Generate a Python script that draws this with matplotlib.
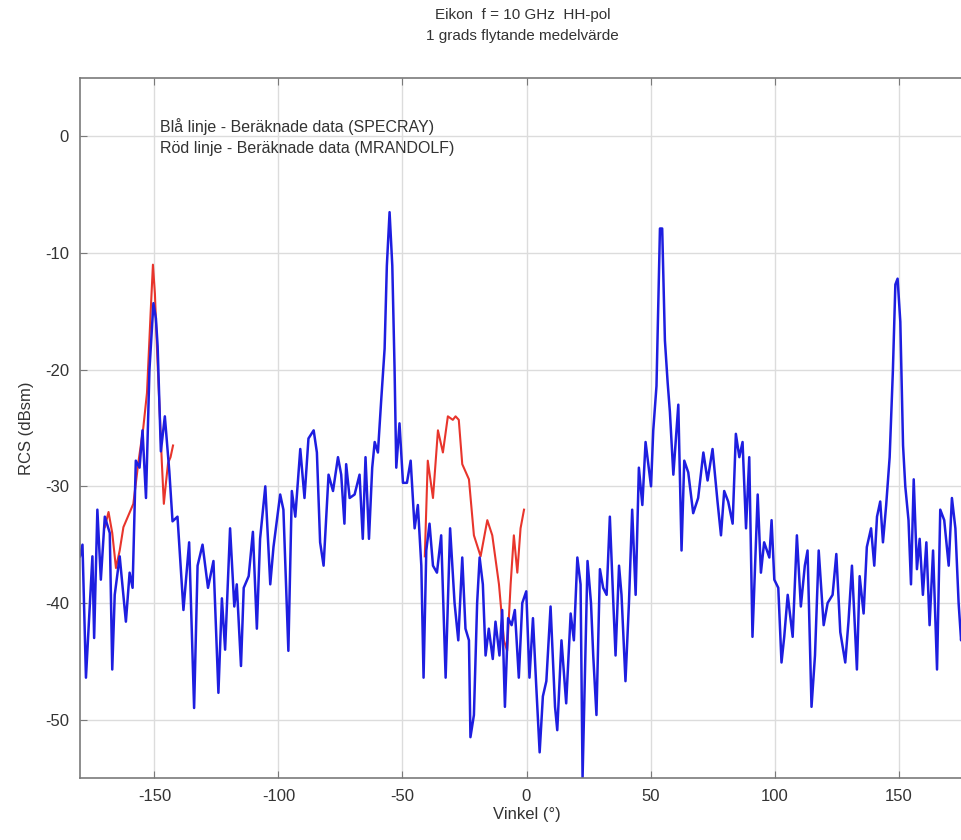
import matplotlib
matplotlib.use("Agg")
import matplotlib.pyplot as plt

plt.rcParams["font.family"] = ["Liberation Sans", "DejaVu Sans"]
plt.rcParams["axes.unicode_minus"] = False

# SPECRAY (blue), angle in degrees and RCS in dBsm
blue_ang = [-180, -179, -177.6, -175, -174.3, -173, -171.6, -170, -168, -167, -166, -164,
            -161.5, -160, -158.8, -157.5, -156, -154.8, -153.4, -152, -150.4, -149.4, -148.7,
            -147.4, -145.8, -144, -142.7, -140.7, -138.3, -136, -134, -132.6, -130.6, -128.4,
            -126.2, -124.2, -122.8, -121.5, -119.5, -117.8, -116.8, -115.1, -114, -112, -110.3,
            -108.7, -107.4, -105.3, -103.3, -102, -99.3, -98, -96, -94.6, -93.2, -91.2, -89.5,
            -87.9, -85.8, -84.5, -83.2, -81.8, -79.8, -78, -76, -74.7, -73.4, -72.7, -71.3,
            -69.3, -67.3, -66, -64.9, -63.5, -62.2, -61.2, -59.9, -58.6, -57.2, -56.3, -55.2,
            -54.1, -53.2, -52.5, -51.2, -49.8, -48.2, -46.7, -45.1, -43.8, -42.4, -41.5, -40.4,
            -39.1, -37.7, -36.1, -34.4, -32.6, -30.8, -29, -27.5, -25.9, -24.6, -23.2, -22.6,
            -21.2, -19.9, -18.9, -17.6, -16.5, -15.2, -13.6, -12.5, -10.9, -9.8, -8.7, -7.4,
            -6, -4.7, -3.1, -1.7, -0.1, 1.2, 2.6, 3.9, 5.3, 6.6, 8, 9.7, 11.5, 12.4, 14.1, 16,
            17.8, 19.1, 20.5, 21.8, 22.6, 24.6, 26, 26.9, 28.2, 29.6, 30.9, 32.3, 33.6, 35,
            35.9, 37.3, 38.3, 39.9, 41.3, 42.6, 44, 45.3, 46.7, 48, 50.2, 51.1, 52.4, 53.8,
            54.7, 55.8, 56.9, 57.8, 59.2, 61.2, 62.5, 63.6, 65.2, 67.2, 69.2, 71.3, 73, 75, 77,
            78.4, 79.7, 81.3, 83.1, 84.4, 85.8, 87.1, 88.5, 89.8, 91.1, 93.2, 94.5, 95.8, 97.9,
            98.8, 99.9, 101.5, 102.8, 103.9, 105.3, 107.3, 109, 110.6, 112.2, 113.3, 114.9,
            116.3, 117.8, 119.8, 121.4, 123.4, 124.9, 126.5, 128.5, 129.8, 131.2, 133.2, 134.3,
            135.9, 137.2, 138.9, 140.2, 141.3, 142.6, 143.7, 145, 146.4, 147.7, 148.7, 149.6,
            150.7, 151.8, 152.7, 154, 155, 156.1, 157.4, 158.5, 159.8, 161.2, 162.5, 163.9,
            165.5, 166.8, 168.4, 170.2, 171.5, 172.9, 174.2, 175.2, 177, 180]
blue_db = [-36, -35, -46.4, -36, -43, -32, -38, -32.6, -34, -45.7, -39.3, -36,
           -41.6, -37.4, -38.7, -27.8, -28.4, -25.2, -31, -20, -14.3, -15.6, -18,
           -27, -24, -28.7, -33, -32.6, -40.6, -34.8, -49, -36.8, -35, -38.7,
           -36.4, -47.7, -39.6, -44, -33.6, -40.3, -38.4, -45.4, -38.7, -37.7, -33.9,
           -42.2, -34.5, -30, -38.4, -35.2, -30.7, -32, -44.1, -30.4, -32.6, -26.8, -31,
           -25.9, -25.2, -27.1, -34.8, -36.8, -29, -30.4, -27.5, -29, -33.2, -28.1, -31,
           -30.7, -29, -34.5, -27.5, -34.5, -28.4, -26.2, -27.1, -22.7, -18.2, -11.1, -6.5,
           -11.1, -19.8, -28.4, -24.6, -29.7, -29.7, -27.8, -33.6, -31.6, -36.8, -46.4, -35.5,
           -33.2, -36.8, -37.4, -34.2, -46.4, -33.6, -40, -43.2, -36.1, -42.2, -43.2, -51.5,
           -49.6, -40, -36.1, -38.4, -44.5, -42.2, -44.8, -41.6, -44.5, -40.6, -48.9, -41.3,
           -41.9, -40.6, -46.4, -40, -39, -46.4, -41.3, -47, -52.8, -48, -46.7, -40.3, -48.9, -50.9, -43.2, -48.6,
           -40.9, -43.2, -36.1, -38.4, -55, -36.4, -40, -44.5, -49.6, -37.1, -38.7, -39.3, -32.6, -40,
           -44.5, -36.8, -39.3, -46.7, -40, -32, -39.3, -28.4, -31.6, -26.2, -30, -25.2, -21.4, -7.9,
           -7.9, -17.5, -21.1, -23.6, -29, -23, -35.5, -27.8, -28.8, -32.3, -31, -27.1, -29.5, -26.8, -31.3,
           -34.2, -30.4, -31.3, -33.2, -25.5, -27.5, -26.2, -33.6, -27.5, -42.9, -30.7, -37.4, -34.8, -36.1,
           -32.9, -38, -38.7, -45.1, -42.9, -39.3, -42.9, -34.2, -40.3, -36.8, -35.5, -48.9,
           -44.5, -35.5, -41.9, -40, -39.3, -35.8, -42.5, -45.1, -41.6, -36.8, -45.7, -37.7,
           -40.9, -35.2, -33.6, -36.8, -32.6, -31.3, -34.8, -31.6, -27.5, -20.1, -12.7, -12.2,
           -15.9, -26.5, -30, -32.9, -38.4, -29.4, -37.1, -34.5, -39.3, -34.8, -41.9, -35.5,
           -45.7, -32, -32.9, -36.8, -31, -33.6, -40, -43.2, -37, -35]

# MRANDOLF (red), two computed sectors
red1_ang = [-170, -168.5, -167, -165.5, -164, -162.5, -160.5, -158.5, -156.5, -154.5, -153,
            -151.5, -150.6, -149.8, -149, -148, -147, -146.2, -145.5, -144.5, -143.5, -142.5]
red1_db = [-33.5, -32.2, -34, -37, -35.5, -33.5, -32.5, -31.5, -28, -25, -22,
           -15, -11, -13.5, -18, -23, -28, -31.5, -30, -28, -27.5, -26.5]
red2_ang = [-41, -39.8, -37.7, -35.7, -33.7, -31.7, -29.7, -28.6, -27.3, -25.9, -23.2, -21.2,
            -18.5, -15.8, -13.8, -11.1, -9.1, -7.8, -6.4, -5.1, -3.7, -2.4, -1]
red2_db = [-36, -27.8, -31, -25.2, -27.1, -24, -24.3, -24, -24.3, -28.1, -29.4, -34.2,
           -36, -32.9, -34.2, -38.4, -43.2, -44.1, -38.4, -34.2, -37.4, -33.6, -32]

fig = plt.figure(figsize=(9.62, 8.4), dpi=100)
# right edge of the axes lies beyond the picture, as in the original
ax = fig.add_axes([80 / 962, 62 / 840, 893 / 962, 700 / 840])

ax.plot(red1_ang, red1_db, color="#e8352c", lw=1.5)
ax.plot(red2_ang, red2_db, color="#e8352c", lw=1.5)
ax.plot(blue_ang, blue_db, color="#1e1ee0", lw=1.8)

ax.set_xlim(-180, 180)
ax.set_ylim(-55, 5)
ax.set_xticks([-150, -100, -50, 0, 50, 100, 150])
ax.set_yticks([-50, -40, -30, -20, -10, 0])
ax.grid(True, color="#dcdcdc", lw=1)
ax.set_axisbelow(True)
for s in ax.spines.values():
    s.set_color("#7a7a7a")
    s.set_linewidth(1.2)
ax.tick_params(direction="in", top=True, right=True, length=5, color="#7a7a7a",
               labelsize=12, labelcolor="#333333", pad=8)

ax.set_xlabel("Vinkel (°)", fontsize=12, color="#333333", labelpad=2)
ax.set_ylabel("RCS (dBsm)", fontsize=12, color="#333333", labelpad=8)

fig.text(0.543, 1 - 15 / 840, "Eikon  f = 10 GHz  HH-pol", fontsize=11, color="#333333",
         ha="center", va="center")
fig.text(0.543, 1 - 36 / 840, "1 grads flytande medelvärde", fontsize=11, color="#333333",
         ha="center", va="center")

ax.text(0.09, 0.943, "Blå linje - Beräknade data (SPECRAY)\nRöd linje - Beräknade data (MRANDOLF)",
        transform=ax.transAxes, fontsize=11.5, color="#333333", va="top", ha="left",
        linespacing=1.55)

fig.savefig("out.png", dpi=100)
